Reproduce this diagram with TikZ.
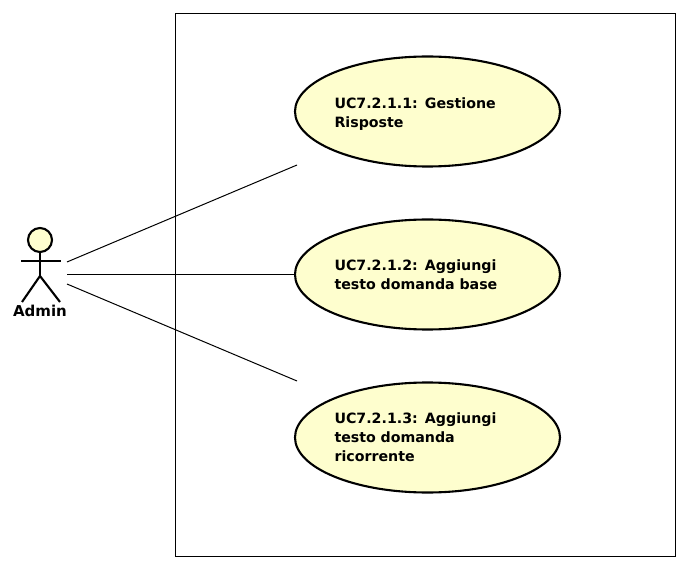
\documentclass[tikz,border=0pt]{standalone}
\usepackage{fontspec}
\setmainfont{DejaVu Sans}
\usetikzlibrary{shapes.geometric}
\definecolor{usefill}{HTML}{FEFECE}
\tikzset{
  usecase/.style={ellipse, draw=black, fill=usefill, line width=2.1pt, minimum width=265pt, minimum height=110pt,
    inner sep=0pt, outer sep=0pt, text width=186pt, align=left, font=\bfseries\fontsize{14.2}{19}\selectfont},
  actorline/.style={line width=2.1pt},
  link/.style={line width=1pt}
}
\begin{document}
\begin{tikzpicture}[x=1pt,y=-1pt]
        \useasboundingbox (0,0) rectangle (688,569);
        \node[draw=black, line width=1pt, minimum width=500pt, minimum height=542.5pt, inner sep=0pt] (boundary) at (425,285) {};
        % use cases
        \node[usecase] (uc1) at (427.5,111.5) {\rule{0pt}{15pt}UC7.2.1.1: Gestione\\Risposte};
        \node[usecase] (uc2) at (427.5,274.5) {UC7.2.1.2: Aggiungi\\testo domanda base};
        \node[usecase] (uc3) at (427.5,437.5) {UC7.2.1.3: Aggiungi\\testo domanda\\ricorrente};
        % actor
        \node[circle, draw=black, fill=usefill, line width=2.1pt, minimum size=24pt, inner sep=0pt] (head) at (40,240) {};
        \coordinate (armL) at (21,261);
        \coordinate (armR) at (61,261);
        \coordinate (hip) at (40,276);
        \coordinate (footL) at (22,302);
        \coordinate (footR) at (60,302);
        \draw[actorline] (head) -- (hip);
        \draw[actorline] (armL) -- (armR);
        \draw[actorline] (footL) -- (hip) -- (footR);
        \node[font=\bfseries\fontsize{15}{16}\selectfont, inner sep=0pt] (admin) at (40,311) {Admin};
        % links
        \coordinate (from1) at (67,262);
        \coordinate (from2) at (67,274.5);
        \coordinate (from3) at (67,284);
        \coordinate (to1) at (297,165);
        \coordinate (to3) at (297,381);
        \draw[link] (from1) -- (to1);
        \draw[link] (from2) -- (uc2);
        \draw[link] (from3) -- (to3);
      \end{tikzpicture}
\end{document}
